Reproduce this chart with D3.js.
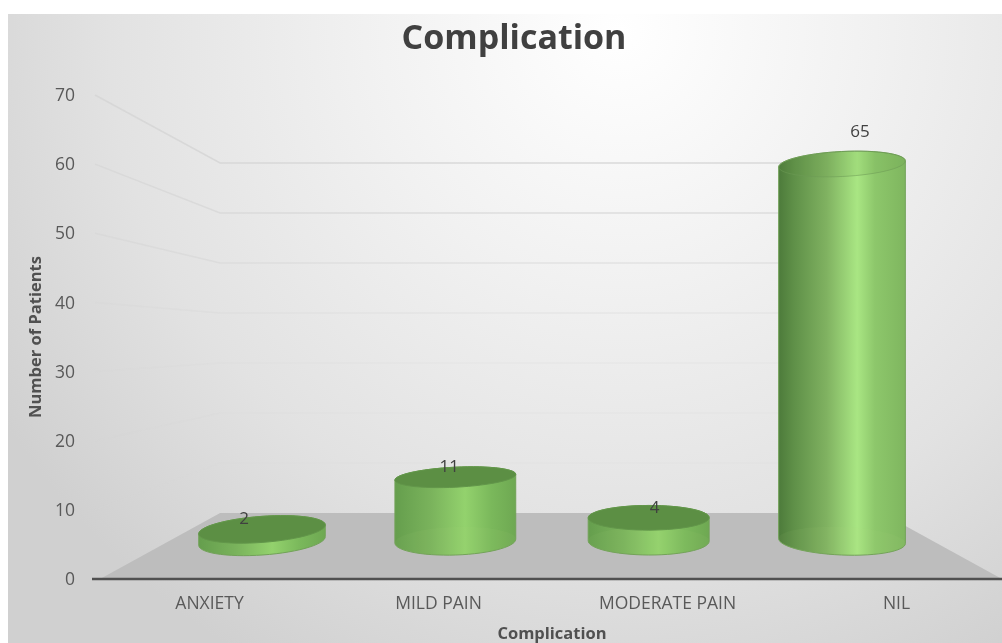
<!DOCTYPE html>
<html><head><meta charset="utf-8">
<script src="https://cdn.jsdelivr.net/npm/d3@7"></script>
<style>
html,body{margin:0;padding:0;background:#fff}
svg{display:block;filter:blur(0.7px)}
text{font-family:"Open Sans",sans-serif}
</style></head><body>
<svg id="c" width="1002" height="643"></svg>
<script>
const categories = ["ANXIETY", "MILD PAIN", "MODERATE PAIN", "NIL"];
const patients = [2, 11, 4, 65];
const yTicks = [0, 10, 20, 30, 40, 50, 60, 70];
const title = "Complication";
const xTitle = "Complication";
const yTitle = "Number of Patients";

const svg = d3.select("#c"), defs = svg.append("defs");

const yFront = d3.scaleLinear().domain([0, 70]).range([579, 95]);
const yBack  = d3.scaleLinear().domain([0, 70]).range([513, 163]);
const yBar   = d3.scaleLinear().domain([0, 65]).range([541, 164]);
const xBar   = d3.scalePoint().domain(categories).range([262, 842]);
const xAxisS = d3.scalePoint().domain(categories).range([209, 896]);
const xLabel = d3.scalePoint().domain(categories).range([244, 860]);
const rxS    = d3.scaleLinear().domain([0, 230]).range([59, 62.5]);
const ryTop  = d3.scaleLinear().domain([2, 11, 65]).range([13, 10, 12.5]);
const gridOp = d3.scaleLinear().domain([0, 30, 70]).range([0.1, 0.2, 0.9]);

// background
const bg = defs.append("radialGradient").attr("id", "bg").attr("gradientUnits", "userSpaceOnUse")
  .attr("cx", 620).attr("cy", 30).attr("r", 730);
[[0, "#ffffff"], [0.35, "#f1f1f1"], [0.7, "#e2e2e2"], [1, "#d0d0d0"]].forEach(([o, c]) =>
  bg.append("stop").attr("offset", o).attr("stop-color", c));
svg.append("rect").attr("x", 8).attr("y", 14).attr("width", 994).attr("height", 629).attr("fill", "url(#bg)");

// cylinder gradients
const side = defs.append("linearGradient").attr("id", "side");
[[0, "#4d7b3b"], [0.12, "#5f9048"], [0.38, "#80b261"], [0.62, "#a9e683"], [0.76, "#8dc76b"], [1, "#7fb65f"]].forEach(([o, c]) =>
  side.append("stop").attr("offset", o).attr("stop-color", c));
const sideShort = defs.append("linearGradient").attr("id", "sideShort");
[[0, "#659e4d"], [0.3, "#7ab35c"], [0.58, "#93d26d"], [0.8, "#7ab85b"], [1, "#6ea852"]].forEach(([o, c]) =>
  sideShort.append("stop").attr("offset", o).attr("stop-color", c));

// floor
const floorDepth = yFront(0) - yBack(0);
const floorPts = [[100, yFront(0)], [1002, yFront(0)], [1002 - floorDepth * 1.82, yBack(0)], [100 + floorDepth * 1.82, yBack(0)]];
svg.append("path").attr("d", d3.line()(floorPts) + "Z").attr("fill", "#bdbdbd");

// gridlines on side and back walls
const wallX = floorPts[3][0], backEnd = 830, sideStart = 95;
const grid = svg.append("g").attr("fill", "none").attr("stroke", "#d6d6d6").attr("stroke-width", 1.5);
yTicks.filter(t => t > 0).forEach(t => {
  grid.append("path")
    .attr("d", d3.line()([[sideStart, yFront(t)], [wallX, yBack(t)], [backEnd, yBack(t)]]))
    .attr("opacity", gridOp(t));
});

// cylinders
function ell(cx, cy, rx, ry, deg, a0, a1) {
  const r = deg * Math.PI / 180;
  return d3.range(a0, a1 + 0.01, 6).map(a => {
    const t = a * Math.PI / 180, u = rx * Math.cos(t), v = ry * Math.sin(t);
    return [cx + u * Math.cos(r) - v * Math.sin(r), cy + u * Math.sin(r) + v * Math.cos(r)];
  });
}
const line = d3.line();
const bars = svg.append("g");
categories.forEach((c, i) => {
  const v = patients[i], cx = xBar(c), rx = rxS(Math.abs(cx - 552));
  const tiltB = (cx - 630) * 0.011, tiltT = tiltB - v * 0.08;
  const yb = yBar(0), yt = yBar(v), tall = v > 30, ry = ryTop(v);
  const front = ell(cx, yb, rx, 14, tiltB, 0, 180);
  const topBack = ell(cx, yt, rx, ry, tiltT, 180, 360);
  const topFront = ell(cx, yt, rx, ry, tiltT, 0, 180);
  bars.append("path").attr("d", line(front.concat(topBack)) + "Z")
    .attr("fill", tall ? "url(#side)" : "url(#sideShort)")
    .attr("stroke", "#72a258").attr("stroke-width", 1);
  if (v > 2) {
    bars.append("path").attr("d", line(front.concat(ell(cx, yb, rx, 14, tiltB, 180, 360))) + "Z")
      .attr("fill", "#b6e090").attr("fill-opacity", 0.06);
  }
  if (tall) {
    bars.append("path").attr("d", line(topBack.concat(topFront)) + "Z")
      .attr("fill", "#5f8f48").attr("fill-opacity", 0.1).attr("stroke", "#6d9a55")
      .attr("stroke-width", 1).attr("stroke-opacity", 0.55);
  } else {
    bars.append("path").attr("d", line(topBack.concat(topFront)) + "Z")
      .attr("fill", "#5c8f44").attr("stroke", "#62964a").attr("stroke-width", 1);
  }
});

// y axis
const gy = svg.append("g").attr("transform", "translate(77,0)")
  .call(d3.axisLeft(yFront).tickValues(yTicks).tickSize(0).tickPadding(2));
gy.select(".domain").remove();
gy.selectAll("text").attr("fill", "#595959").style("font-size", "17.5px").style("font-family", '"Open Sans",sans-serif');

// x axis
const gx = svg.append("g").attr("transform", `translate(0,${yFront(0)})`)
  .call(d3.axisBottom(xAxisS).tickSize(0).tickPadding(18));
gx.select(".domain").remove();
gx.selectAll("text").attr("fill", "#595959").style("font-size", "17.5px").style("font-family", '"Open Sans",sans-serif');
svg.append("line").attr("x1", 92).attr("x2", 1002).attr("y1", yFront(0)).attr("y2", yFront(0))
  .attr("stroke", "#505050").attr("stroke-width", 2.4);

// data labels
svg.append("g").selectAll("text").data(categories).join("text")
  .attr("x", d => xLabel(d))
  .attr("y", (d, i) => yBar(patients[i]) - 5 - (patients[i] > 30 ? 22 : 0))
  .attr("text-anchor", "middle").attr("fill", "#404040").style("font-size", "17px")
  .text((d, i) => patients[i]);

// titles
svg.append("text").attr("x", 514).attr("y", 49).attr("text-anchor", "middle")
  .attr("fill", "#404040").style("font-size", "34px").style("font-weight", 700).text(title);
svg.append("text").attr("x", 552).attr("y", 639).attr("text-anchor", "middle")
  .attr("fill", "#505050").style("font-size", "16.5px").style("font-weight", 700).text(xTitle);
svg.append("text").attr("transform", "translate(41,337) rotate(-90)").attr("text-anchor", "middle")
  .attr("fill", "#505050").style("font-size", "16.5px").style("font-weight", 700).text(yTitle);
</script>
</body></html>
